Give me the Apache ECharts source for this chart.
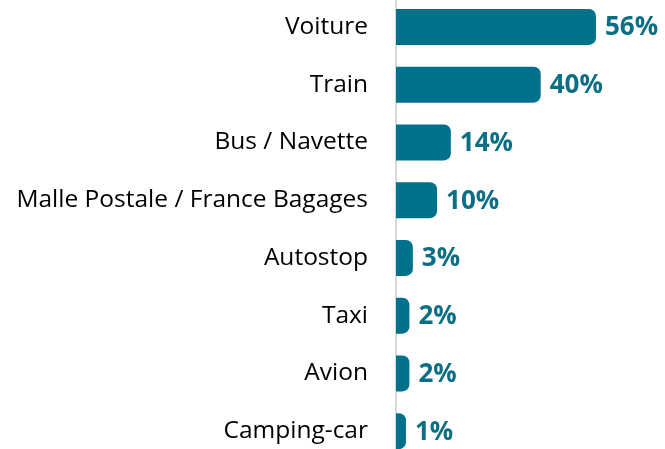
<!DOCTYPE html>
<html>
<head>
<meta charset="utf-8">
<script src="https://cdn.jsdelivr.net/npm/echarts@6/dist/echarts.min.js"></script>
<style>
  html, body { margin: 0; padding: 0; background: #fff; }
  #chart { width: 665px; height: 449px; }
</style>
</head>
<body>
<div id="chart"></div>
<script>
// Transport modes, top to bottom
const categories = [
  'Voiture',
  'Train',
  'Bus / Navette',
  'Malle Postale / France Bagages',
  'Autostop',
  'Taxi',
  'Avion',
  'Camping-car'
];
// Share of respondents (%)
const shares = [56, 40, 14, 10, 3, 2, 2, 1];

const teal = '#00718a';
const labelTeal = '#0b6e84';
const barThickness = 36;
const capLength = 6.5;   // rounded end cap drawn past the value
const labelGap = 9;

function renderBar(params, api) {
  const value = api.value(0);
  const cat = api.value(1);
  const base = api.coord([0, cat]);
  const end = api.coord([value, cat]);
  const tip = end[0] + capLength;
  return {
    type: 'group',
    children: [
      {
        type: 'rect',
        shape: {
          x: base[0], y: base[1] - barThickness / 2,
          width: tip - base[0], height: barThickness,
          r: [0, 7, 7, 0]
        },
        style: { fill: teal }
      },
      {
        type: 'text',
        style: {
          text: value + '%',
          x: tip + labelGap, y: base[1] + 1,
          verticalAlign: 'middle', align: 'left',
          fill: labelTeal,
          font: 'bold 26px "Open Sans"'
        }
      }
    ]
  };
}

const chart = echarts.init(document.getElementById('chart'), null, { renderer: 'canvas' });
chart.setOption({
  animation: false,
  grid: {
    left: 396, top: -2, width: 345.5, height: 462,
    containLabel: false, outerBoundsMode: 'none'
  },
  xAxis: {
    type: 'value', min: 0, max: 100,
    show: false
  },
  yAxis: {
    type: 'category',
    data: categories,
    inverse: true,
    offset: 1,
    axisLine: { show: true, lineStyle: { color: '#d9d9d9', width: 2 } },
    axisTick: { show: false },
    axisLabel: {
      margin: 27,
      color: '#000',
      fontSize: 24.5,
      fontFamily: 'Open Sans'
    }
  },
  series: [{
    type: 'custom',
    renderItem: renderBar,
    encode: { x: 0, y: 1 },
    data: shares.map((v, i) => [v, i]),
    z: 3
  }]
});
</script>
</body>
</html>
